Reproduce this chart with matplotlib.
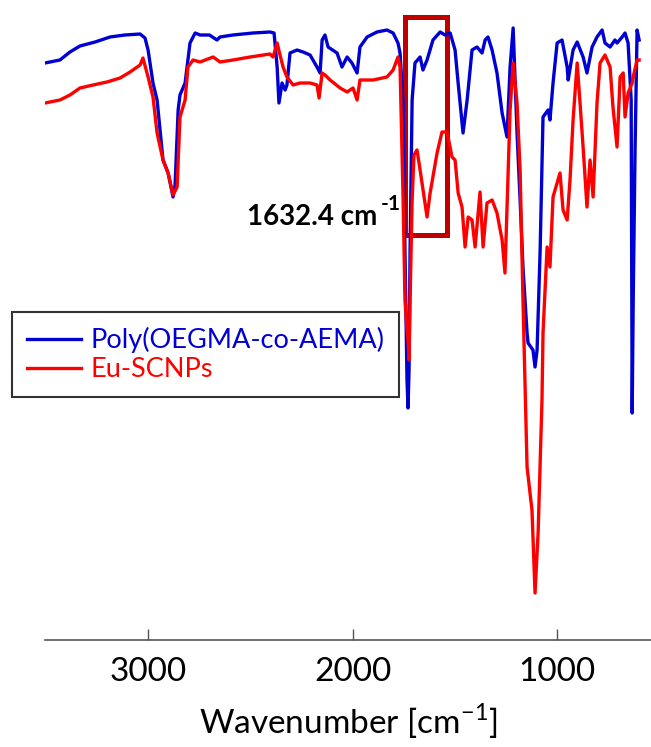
import numpy as np
import matplotlib
matplotlib.use("Agg")
import matplotlib.pyplot as plt
from matplotlib.patches import Rectangle

plt.rcParams['font.family'] = ['Lato', 'DejaVu Sans']
plt.rcParams['mathtext.fontset'] = 'custom'
plt.rcParams['mathtext.rm'] = 'Lato'
plt.rcParams['mathtext.bf'] = 'Lato:bold'

# FTIR spectra, wavenumber [cm-1] vs transmittance (a.u.)
poly_wn = [3504, 3431, 3382, 3333, 3259, 3186, 3113, 3039, 3015, 3000, 2976, 2956,
           2927, 2902, 2878, 2868, 2853, 2844, 2819, 2795, 2770, 2746, 2700, 2663,
           2648, 2585, 2487, 2404, 2384, 2369, 2360, 2345, 2330, 2321, 2306, 2272,
           2242, 2208, 2174, 2159, 2149, 2135, 2120, 2076, 2052, 2027, 2003, 1978,
           1964, 1929, 1881, 1832, 1802, 1778, 1768, 1753, 1744, 1734, 1729, 1724,
           1719, 1709, 1695, 1670, 1656, 1636, 1607, 1572, 1548, 1523, 1499, 1484,
           1460, 1440, 1416, 1392, 1367, 1352, 1338, 1318, 1294, 1269, 1245, 1230,
           1215, 1196, 1181, 1167, 1147, 1142, 1118, 1108, 1098, 1083, 1069, 1044,
           1035, 1020, 1000, 976, 951, 946, 922, 902, 873, 854, 829, 805, 780, 766,
           741, 717, 707, 682, 668, 653, 638, 633, 628, 619, 609, 599]
poly_t = [577, 580, 588, 594, 598, 603, 605, 606, 602, 590, 557, 540,
          480, 467, 443, 455, 530, 545, 557, 597, 607, 605, 605, 600,
          603, 605, 607, 608, 607, 573, 537, 557, 550, 555, 587, 590,
          588, 585, 573, 567, 600, 605, 593, 587, 573, 583, 577, 567,
          593, 603, 608, 610, 607, 597, 587, 537, 390, 260, 232, 270,
          390, 540, 577, 583, 570, 580, 600, 608, 605, 607, 590, 557,
          507, 540, 590, 593, 587, 600, 603, 590, 567, 527, 503, 573,
          612, 507, 440, 373, 307, 297, 290, 273, 290, 390, 523, 530,
          520, 557, 597, 600, 573, 560, 590, 598, 583, 567, 593, 603, 610, 597,
          593, 600, 597, 603, 607, 597, 540, 227, 340, 490, 610, 600]

eu_wn = [3504, 3431, 3382, 3333, 3269, 3201, 3137, 3088, 3039, 3025, 3000, 2976,
         2956, 2927, 2902, 2878, 2858, 2844, 2819, 2805, 2780, 2746, 2682, 2648,
         2585, 2501, 2404, 2389, 2369, 2355, 2340, 2321, 2291, 2257, 2208, 2174,
         2164, 2149, 2135, 2110, 2061, 2027, 1998, 1978, 1964, 1900, 1832, 1802,
         1778, 1768, 1753, 1744, 1734, 1729, 1724, 1719, 1714, 1709, 1700, 1685,
         1670, 1636, 1621, 1587, 1563, 1538, 1514, 1499, 1484, 1465, 1450, 1435,
         1416, 1401, 1377, 1362, 1343, 1318, 1294, 1269, 1255, 1230, 1215, 1196,
         1181, 1167, 1147, 1123, 1108, 1093, 1074, 1069, 1049, 1035, 1020, 986,
         971, 951, 937, 922, 902, 888, 873, 854, 839, 824, 805, 790, 766, 741,
         727, 707, 692, 677, 668, 653, 633, 628, 609, 599]
eu_t = [537, 540, 545, 552, 555, 558, 562, 568, 575, 582, 563, 543,
        507, 480, 467, 445, 453, 523, 540, 573, 580, 578, 583, 578,
        580, 583, 586, 583, 597, 585, 573, 563, 555, 557, 557, 555,
        542, 567, 565, 560, 552, 548, 552, 540, 560, 560, 563, 570,
        583, 573, 440, 340, 310, 300, 280, 340, 390, 440, 485, 490,
        470, 423, 447, 487, 508, 508, 483, 480, 447, 433, 393, 423,
        420, 393, 448, 393, 437, 440, 427, 400, 367, 530, 577, 537,
        470, 340, 173, 130, 47, 107, 240, 307, 393, 373, 443, 467,
        430, 420, 460, 520, 577, 537, 493, 433, 480, 443, 537, 577, 585, 573,
        533, 493, 563, 567, 523, 547, 557, 563, 580, 580]

labels = ['Poly(OEGMA-co-AEMA)', 'Eu-SCNPs']
colors = ['#0000D2', '#FF0000']
box_wn = (1746, 1538)
box_t = (405, 623)

fig = plt.figure(figsize=(6.51, 7.47), dpi=100)
ax = fig.add_axes([45 / 651, 107 / 747, 606 / 651, 620 / 747])

ax.plot(poly_wn, poly_t, color=colors[0], lw=2.4, label=labels[0])
ax.plot(eu_wn, eu_t, color=colors[1], lw=2.4, label=labels[1])

ax.set_xlim(3504, 541)
ax.set_ylim(0, 620)

for s in ['left', 'right', 'top']:
    ax.spines[s].set_visible(False)
ax.spines['bottom'].set_color('#555555')
ax.spines['bottom'].set_linewidth(1.2)
ax.set_yticks([])
ax.set_xticks([3000, 2000, 1000])
ax.tick_params(axis='x', direction='in', length=8, width=1, color='#555555',
               labelsize=24, pad=12)
ax.set_xlabel('Wavenumber [cm$^{\\mathrm{-1}}$]', fontsize=24, labelpad=11)

rect = Rectangle((box_wn[0], box_t[0]), box_wn[1] - box_wn[0], box_t[1] - box_t[0],
                 fill=False, edgecolor='#C00000', lw=3.6, clip_on=False)
ax.add_patch(rect)
# peak label: main text plus a raised "-1"
ax.text(1878, 415, '1632.4 cm', ha='right', va='baseline', fontsize=20,
        fontweight='bold')
ax.text(1862, 430, '-1', ha='left', va='baseline', fontsize=15,
        fontweight='bold')

leg = ax.legend(loc='upper left', bbox_to_anchor=(12 / 651, 1 - 312 / 747),
                bbox_transform=fig.transFigure, borderaxespad=0, fontsize=19.5,
                frameon=True, fancybox=False, edgecolor='black',
                labelcolor=colors, handlelength=2.0, handletextpad=0.35,
                labelspacing=0.15, borderpad=0.55)
leg.get_frame().set_linewidth(1.5)

fig.savefig('out.png', dpi=100)
